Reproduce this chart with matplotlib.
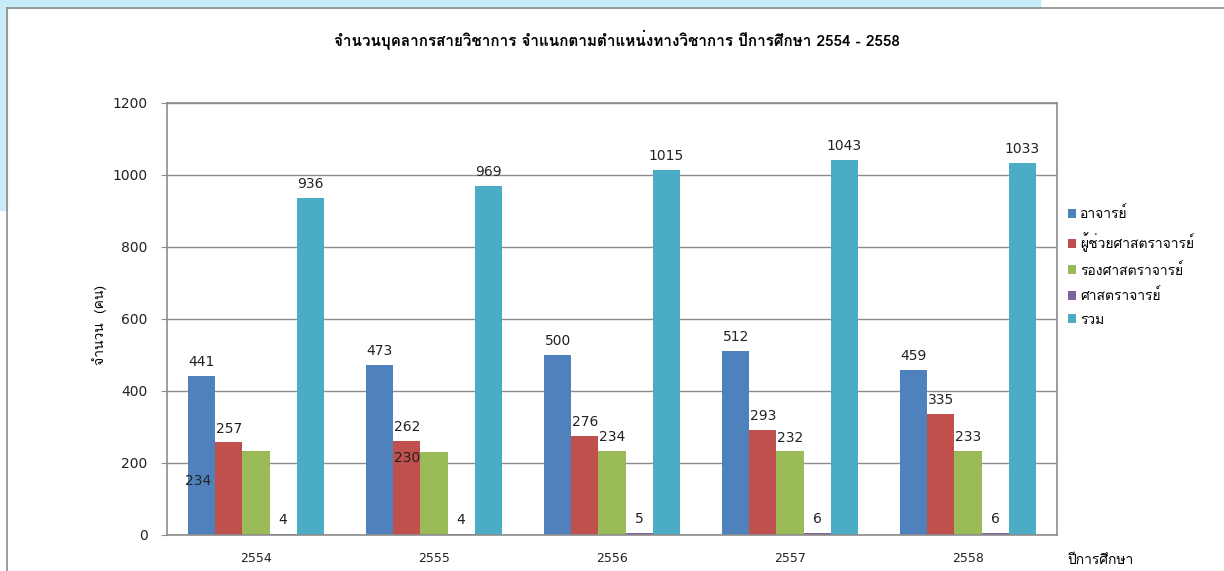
import numpy as np
import matplotlib
matplotlib.use('Agg')
import matplotlib.pyplot as plt
from matplotlib import font_manager
from matplotlib.patches import Rectangle

# หา font ที่มีอักษรไทย
thai_font = None
try:
    from fontTools.ttLib import TTFont
    for fe in font_manager.fontManager.ttflist:
        try:
            f = TTFont(fe.fname, fontNumber=0, lazy=True)
            cmap = f.getBestCmap()
            if cmap and 0x0E08 in cmap and 0x0E33 in cmap:
                thai_font = fe.name
                break
        except Exception:
            pass
except Exception:
    pass
fams = ([thai_font] if thai_font else []) + ['DejaVu Sans']
plt.rcParams['font.family'] = fams

years = ['2554', '2555', '2556', '2557', '2558']
series = ['อาจารย์', 'ผู้ช่วยศาสตราจารย์', 'รองศาสตราจารย์', 'ศาสตราจารย์', 'รวม']
ajarn = [441, 473, 500, 512, 459]
asst_prof = [257, 262, 276, 293, 335]
assoc_prof = [234, 230, 234, 232, 233]
prof = [4, 4, 5, 6, 6]
total = [936, 969, 1015, 1043, 1033]
values = [ajarn, asst_prof, assoc_prof, prof, total]
colors = ['#4F81BD', '#C0504D', '#9BBB59', '#8064A2', '#4BACC6']

fig = plt.figure(figsize=(12.24, 5.71), dpi=100)
# พื้นหลังฟ้าอ่อนมุมซ้ายบน
fig.patches.append(Rectangle((0, 1 - 8/571), 0.85, 8/571, transform=fig.transFigure,
                             color='#c8ecfa', zorder=0))
fig.patches.append(Rectangle((0, 1 - 210/571), 7/1224, 210/571, transform=fig.transFigure,
                             color='#c8ecfa', zorder=0))
fig.lines.append(plt.Line2D([7/1224, 1], [1 - 8/571, 1 - 8/571], transform=fig.transFigure,
                            color='#8c8c8c', lw=1.2))
fig.lines.append(plt.Line2D([7/1224, 7/1224], [0, 1 - 8/571], transform=fig.transFigure,
                            color='#8c8c8c', lw=1.2))

ax = fig.add_axes([167/1224, 1 - 535/571, 890/1224, 432/571])
x = np.arange(len(years))
w = 0.152
for i, (name, vals, c) in enumerate(zip(series, values, colors)):
    pos = x + (i - 2) * w
    ax.bar(pos, vals, w, color=c, label=name, zorder=2)
    for j, v in enumerate(vals):
        dx, dy = 0, 5
        if i == 2 and j == 0:
            dx, dy = -42, -27
        if i == 2 and j == 1:
            dx, dy = -19, -9
        ax.annotate(str(v), (pos[j], v), xytext=(dx, dy), textcoords='offset points',
                    ha='center', va='bottom', fontsize=10, color='#222222',
                    family=['DejaVu Sans'], zorder=3)

ax.set_xlim(-0.5, 4.5)
ax.set_ylim(0, 1200)
ax.set_yticks(range(0, 1201, 200))
ax.set_xticks(x)
ax.set_xticklabels(years, family=['DejaVu Sans'], fontsize=9)
ax.tick_params(axis='y', labelsize=10, colors='#8c8c8c', labelcolor='#222222', length=4, pad=10)
ax.tick_params(axis='x', length=0, pad=12, labelcolor='#222222')
for lab in ax.get_yticklabels():
    lab.set_family(['DejaVu Sans'])
ax.grid(axis='y', color='#8c8c8c', lw=1, zorder=1)
for s in ax.spines.values():
    s.set_color('#8c8c8c')
    s.set_linewidth(1.2)

fig.text(100/1224, 1 - 325/571, 'จำนวน  (คน)', rotation=90, ha='center', va='center', fontsize=10)
fig.text(1100/1224, 1 - 561/571, 'ปีการศึกษา', ha='center', va='center', fontsize=10)
fig.text(617/1224, 1 - 40/571, 'จำนวนบุคลากรสายวิชาการ จำแนกตามตำแหน่งทางวิชาการ ปีการศึกษา 2554 - 2558',
         ha='center', va='center', fontsize=11, fontweight='bold')

ax.legend(loc='upper left', bbox_to_anchor=(1062/1224, 1 - 201/571), bbox_transform=fig.transFigure,
          frameon=False, fontsize=10, handlelength=0.6, handleheight=0.6, handletextpad=0.3,
          labelspacing=0.78, borderaxespad=0)

fig.savefig('out.png', dpi=100)
